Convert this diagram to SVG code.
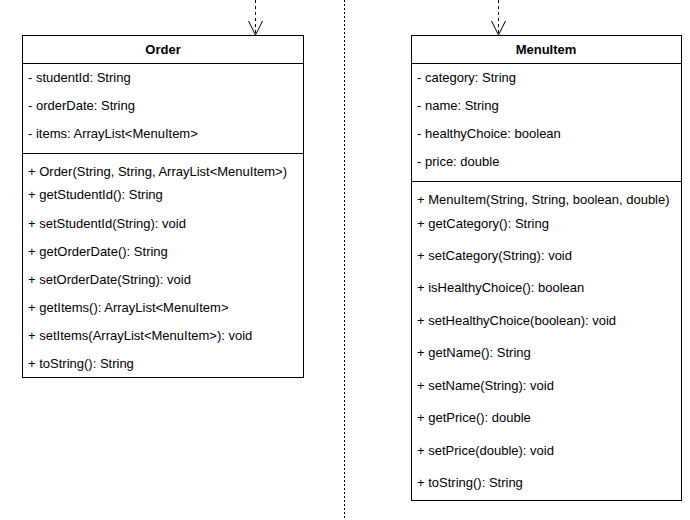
<svg xmlns="http://www.w3.org/2000/svg" width="690" height="520" viewBox="0 0 690 520">
<style>
.box{fill:#fff;stroke:#000;stroke-width:1}
.sep{stroke:#000;stroke-width:1}
text{font-family:"Liberation Sans",Arial,sans-serif;font-size:13px;fill:#000}
.title{font-weight:bold;text-anchor:middle}
.dep{stroke:#000;stroke-width:1;stroke-dasharray:3,3;fill:none}
.div{stroke:#000;stroke-width:1;stroke-dasharray:2,2;fill:none}
.head{fill:none;stroke:#000;stroke-width:1}
</style>
<g id="connectors">
<line class="div" x1="344.5" y1="0" x2="344.5" y2="520"/>
<line class="dep" x1="255.5" y1="0" x2="255.5" y2="34"/>
<polyline class="head" points="248.5,21 255.5,35 262.5,21"/>
<line class="dep" x1="498.5" y1="0" x2="498.5" y2="34"/>
<polyline class="head" points="491.5,21 498.5,35 505.5,21"/>
</g>
<g id="Order">
<rect class="box" x="22.5" y="35.5" width="281" height="342"/>
<line class="sep" x1="22.5" y1="63.5" x2="303.5" y2="63.5"/>
<line class="sep" x1="22.5" y1="153.5" x2="303.5" y2="153.5"/>
<text class="title" x="163" y="54">Order</text>
<text x="28" y="82">- studentId: String</text>
<text x="28" y="110">- orderDate: String</text>
<text x="28" y="138">- items: ArrayList&lt;MenuItem&gt;</text>
<text x="28" y="176">+ Order(String, String, ArrayList&lt;MenuItem&gt;)</text>
<text x="28" y="199">+ getStudentId(): String</text>
<text x="28" y="228">+ setStudentId(String): void</text>
<text x="28" y="256">+ getOrderDate(): String</text>
<text x="28" y="284">+ setOrderDate(String): void</text>
<text x="28" y="312">+ getItems(): ArrayList&lt;MenuItem&gt;</text>
<text x="28" y="340">+ setItems(ArrayList&lt;MenuItem&gt;): void</text>
<text x="28" y="368">+ toString(): String</text>
</g>
<g id="MenuItem">
<rect class="box" x="411.5" y="35.5" width="270" height="465"/>
<line class="sep" x1="411.5" y1="63.5" x2="681.5" y2="63.5"/>
<line class="sep" x1="411.5" y1="181.5" x2="681.5" y2="181.5"/>
<text class="title" x="546" y="54">MenuItem</text>
<text x="417" y="82">- category: String</text>
<text x="417" y="110">- name: String</text>
<text x="417" y="138">- healthyChoice: boolean</text>
<text x="417" y="166">- price: double</text>
<text x="417" y="204">+ MenuItem(String, String, boolean, double)</text>
<text x="417" y="228">+ getCategory(): String</text>
<text x="417" y="260">+ setCategory(String): void</text>
<text x="417" y="292">+ isHealthyChoice(): boolean</text>
<text x="417" y="325">+ setHealthyChoice(boolean): void</text>
<text x="417" y="357">+ getName(): String</text>
<text x="417" y="390">+ setName(String): void</text>
<text x="417" y="422">+ getPrice(): double</text>
<text x="417" y="455">+ setPrice(double): void</text>
<text x="417" y="487">+ toString(): String</text>
</g>
</svg>
